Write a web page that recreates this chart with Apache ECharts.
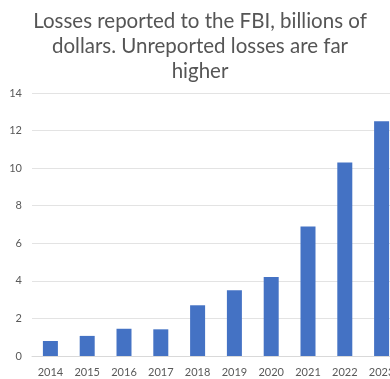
<!DOCTYPE html>
<html>
<head>
<meta charset="utf-8">
<script src="https://cdn.jsdelivr.net/npm/echarts@6/dist/echarts.min.js"></script>
<style>
  html, body { margin: 0; padding: 0; background: #fff; }
  #chart { width: 390px; height: 379px; }
</style>
</head>
<body>
<div id="chart"></div>
<script>
// data
var years = ['2014', '2015', '2016', '2017', '2018', '2019', '2020', '2021', '2022', '2023'];
var losses = [0.8, 1.07, 1.45, 1.42, 2.7, 3.5, 4.2, 6.9, 10.3, 12.5];
var yTicks = [0, 2, 4, 6, 8, 10, 12, 14];

var chart = echarts.init(document.getElementById('chart'));
var option = {
    animation: false,
    title: {
        text: 'Losses reported to the FBI, billions of\ndollars. Unreported losses are far\nhigher',
        left: 195,
        textAlign: 'center',
        top: 4,
        textStyle: {
            fontFamily: 'Lato',
            fontWeight: 'normal',
            fontSize: 20.5,
            lineHeight: 25,
            color: '#555555'
        }
    },
    grid: {
        left: 32,
        top: 93,
        width: 368,
        height: 263,
        outerBoundsMode: 'none'   // the original is cropped on the right
    },
    xAxis: {
        type: 'category',
        data: years,
        axisLine: { lineStyle: { color: '#d9d9d9' } },
        axisTick: { show: false },
        axisLabel: {
            color: '#595959',
            fontFamily: 'Lato',
            fontSize: 11,
            margin: 11
        }
    },
    yAxis: {
        type: 'value',
        min: yTicks[0],
        max: yTicks[yTicks.length - 1],
        interval: 2,
        axisLine: { show: false },
        axisTick: { show: false },
        splitLine: { lineStyle: { color: '#e3e3e3' } },
        axisLabel: {
            color: '#595959',
            fontFamily: 'Lato',
            fontSize: 11,
            margin: 10
        }
    },
    series: [{
        type: 'bar',
        data: losses,
        barWidth: 15,
        itemStyle: { color: '#4472C4' }
    }]
};
chart.setOption(option);
</script>
</body>
</html>
